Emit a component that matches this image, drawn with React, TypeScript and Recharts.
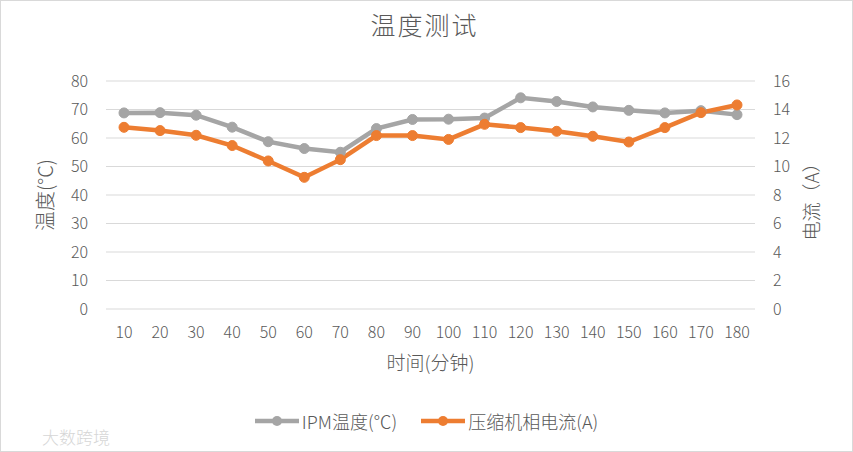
import React from 'react';
import { LineChart, Line, XAxis, YAxis, CartesianGrid } from 'recharts';

/* 温度测试 — IPM temperature vs compressor phase current */

const minutes = ['10', '20', '30', '40', '50', '60', '70', '80', '90', '100', '110', '120', '130', '140', '150', '160', '170', '180'];
const ipmTemp = [68.8, 68.9, 68.0, 63.8, 58.7, 56.3, 55.0, 63.3, 66.5, 66.6, 67.0, 74.1, 72.8, 70.9, 69.7, 68.8, 69.6, 68.2];
const phaseCurrent = [12.75, 12.52, 12.19, 11.47, 10.39, 9.24, 10.48, 12.17, 12.17, 11.9, 12.96, 12.73, 12.47, 12.12, 11.72, 12.73, 13.78, 14.32];
const tempTicks = [0, 10, 20, 30, 40, 50, 60, 70, 80];
const currentTicks = [0, 2, 4, 6, 8, 10, 12, 14, 16];

const GRAY = '#A5A5A5';
const ORANGE = '#ED7D31';
const TEXT = '#595959';
const FONT = '"Noto Sans CJK SC", "Noto Sans", sans-serif';

const data = minutes.map((m, i) => ({ m, temp: ipmTemp[i], current: phaseCurrent[i] }));

const tickStyle = { fill: TEXT, fontSize: 16, fontFamily: FONT, fontWeight: 300 };
const titleStyle = { fill: TEXT, fontSize: 19, fontFamily: FONT, fontWeight: 300 };

const LegendItem: React.FC<{ color: string; label: string }> = ({ color, label }) => (
  <div style={{ display: 'flex', alignItems: 'center', marginRight: 24 }}>
    <svg width={44} height={14} style={{ marginRight: 3 }}>
      <line x1={0} y1={7} x2={44} y2={7} stroke={color} strokeWidth={4.5} />
      <circle cx={22} cy={7} r={5} fill={color} />
    </svg>
    <span>{label}</span>
  </div>
);

export default function App() {
  return (
    <div
      style={{
        position: 'absolute',
        left: 0,
        top: 0,
        width: 853,
        height: 452,
        background: '#fff',
        fontFamily: FONT,
        fontWeight: 300,
        color: TEXT,
      }}
    >
      <div style={{ position: 'absolute', left: 0, top: 0, width: 853, height: 452, boxSizing: 'border-box', border: '1px solid #D9D9D9' }} />

      <div style={{ position: 'absolute', left: 0, top: 6, width: 849, textAlign: 'center', fontSize: 25, letterSpacing: 2 }}>
        温度测试
      </div>

      <LineChart width={853} height={452} data={data} margin={{ top: 81, right: 0, bottom: 113, left: 0 }}>
        <CartesianGrid vertical={false} stroke="#D9D9D9" strokeWidth={1} yAxisId="left" />
        <XAxis
          dataKey="m"
          height={30}
          padding={{ left: 18, right: 18 }}
          tickLine={false}
          axisLine={false}
          tickMargin={12}
          tick={tickStyle}
          label={{ value: '时间(分钟)', position: 'bottom', offset: 18, ...titleStyle }}
        />
        <YAxis
          yAxisId="left"
          width={106}
          domain={[0, 80]}
          ticks={tempTicks}
          tickLine={false}
          axisLine={false}
          tickMargin={12}
          tick={tickStyle}
          label={{ value: '温度(°C)', angle: -90, position: 'center', dx: -7, dy: 0, ...titleStyle, fontSize: 20 }}
        />
        <YAxis
          yAxisId="right"
          orientation="right"
          width={98}
          domain={[0, 16]}
          ticks={currentTicks}
          tickLine={false}
          axisLine={false}
          tickMargin={12}
          tick={tickStyle}
          label={{ value: '电流（A）', angle: -90, position: 'center', dx: 8, dy: 2, ...titleStyle }}
        />
        <Line
          yAxisId="left"
          dataKey="temp"
          stroke={GRAY}
          strokeWidth={4.5}
          dot={{ r: 5, fill: GRAY, stroke: GRAY, strokeWidth: 1 }}
          isAnimationActive={false}
        />
        <Line
          yAxisId="right"
          dataKey="current"
          stroke={ORANGE}
          strokeWidth={4.5}
          dot={{ r: 5, fill: ORANGE, stroke: ORANGE, strokeWidth: 1 }}
          isAnimationActive={false}
        />
      </LineChart>

      <div
        style={{
          position: 'absolute',
          left: 0,
          top: 408,
          width: 853,
          display: 'flex',
          justifyContent: 'center',
          fontSize: 18,
          paddingLeft: 24,
          boxSizing: 'border-box',
        }}
      >
        <LegendItem color={GRAY} label="IPM温度(℃)" />
        <LegendItem color={ORANGE} label="压缩机相电流(A)" />
      </div>

      <div style={{ position: 'absolute', left: 42, top: 424, fontSize: 17, color: '#D6D6D6' }}>大数跨境</div>
    </div>
  );
}
